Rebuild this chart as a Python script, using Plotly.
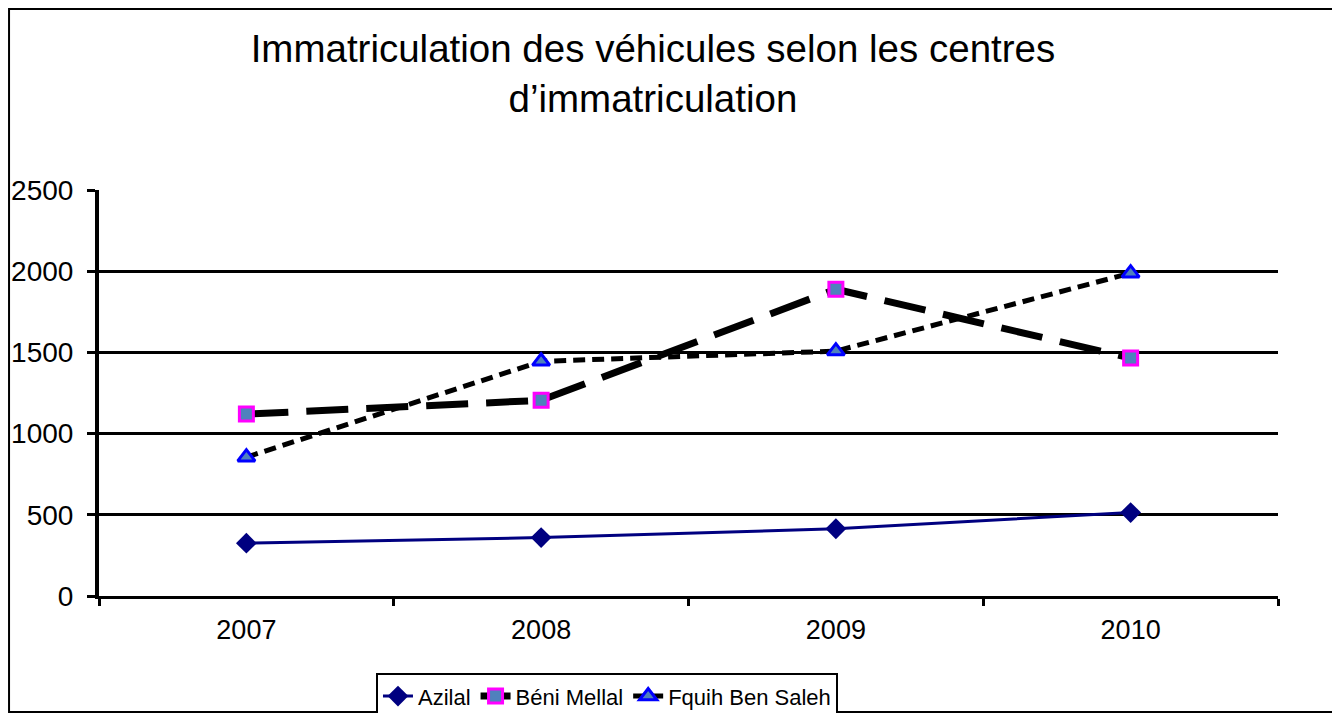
import plotly.graph_objects as go

years = ["2007", "2008", "2009", "2010"]
azilal = [325, 360, 414, 514]
beni_mellal = [1120, 1205, 1889, 1465]
fquih_ben_saleh = [855, 1445, 1508, 1988]
y_ticks = [0, 500, 1000, 1500, 2000, 2500]

fig = go.Figure()
fig.add_trace(go.Scatter(
    x=years, y=azilal, name="Azilal", mode="lines+markers",
    line=dict(color="#000080", width=3),
    marker=dict(symbol="diamond", size=16, color="#000080")))
fig.add_trace(go.Scatter(
    x=years, y=beni_mellal, name="Béni Mellal", mode="lines+markers",
    line=dict(color="black", width=7, dash="42px,18px"),
    marker=dict(symbol="square", size=14, color="#4F81BD",
                line=dict(color="#FF00FF", width=3))))
fig.add_trace(go.Scatter(
    x=years, y=fquih_ben_saleh, name="Fquih Ben Saleh", mode="lines+markers",
    line=dict(color="black", width=5, dash="12px,7px"),
    marker=dict(symbol="triangle-up", size=15, color="#4F81BD",
                line=dict(color="#0000FF", width=3))))

fig.update_layout(
    width=1340, height=713,
    paper_bgcolor="white", plot_bgcolor="white",
    margin=dict(l=91, r=70, t=182, b=125, autoexpand=False),
    font=dict(family="Liberation Sans, Arial", size=26, color="black"),
    title=dict(
        text="Immatriculation des véhicules selon les centres<br>d’immatriculation",
        x=0.4813, xanchor="center", y=0.924, yanchor="top",
        font=dict(size=38.5, color="black")),
    showlegend=True,
    legend=dict(orientation="h", xref="container", yref="container",
                x=0.447, xanchor="center", y=0.067, yanchor="top",
                bordercolor="black", borderwidth=2, bgcolor="white",
                font=dict(size=22), itemwidth=30, tracegroupgap=0),
    xaxis=dict(type="category", range=[-0.5, 3.5], showgrid=False,
               automargin=False,
               showline=True, linecolor="black", linewidth=3,
               ticks="outside", tickson="boundaries", ticklen=7,
               tickwidth=3, tickcolor="black", ticklabelstandoff=8,
               tickfont=dict(size=27)),
    yaxis=dict(range=[0, 2500], tickvals=y_ticks, showgrid=True,
               automargin=False,
               gridcolor="black", gridwidth=3, zeroline=False,
               showline=True, linecolor="black", linewidth=4,
               ticks="outside", ticklen=8, tickwidth=3, tickcolor="black",
               ticklabelstandoff=8, tickfont=dict(size=28)),
    shapes=[dict(type="rect", xref="paper", yref="paper",
                 x0=-0.0763, x1=1.0475, y0=-0.2857, y1=1.4458,
                 line=dict(color="black", width=2))]
)

fig.write_html("out.html")
